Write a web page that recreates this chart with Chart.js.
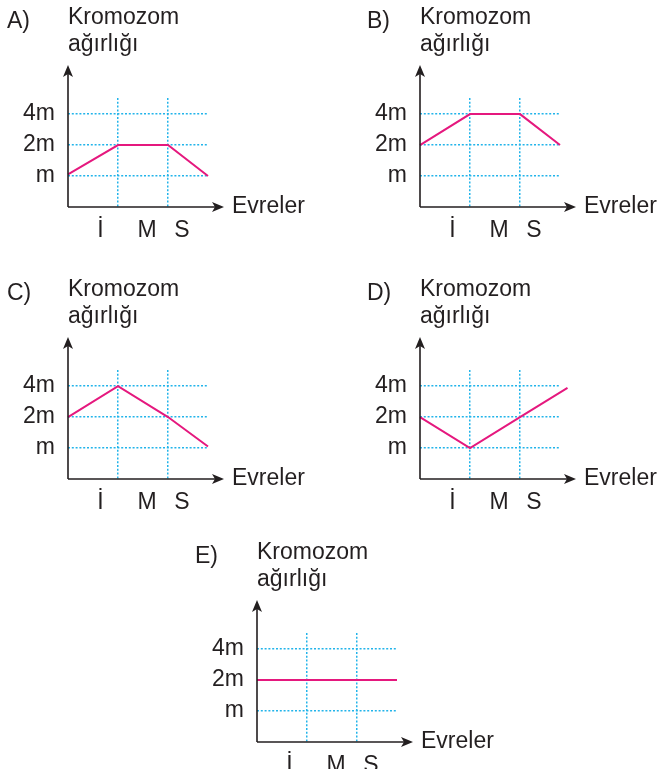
<!DOCTYPE html>
<html>
<head>
<meta charset="utf-8">
<script src="https://cdn.jsdelivr.net/npm/chart.js@4/dist/chart.umd.min.js"></script>
<style>
  html, body { margin: 0; padding: 0; background: #fff; overflow: hidden; }
  body { width: 662px; height: 769px; position: relative; }
  canvas { position: absolute; }
</style>
</head>
<body>
<canvas id="chartA" width="310" height="240"></canvas>
<canvas id="chartB" width="310" height="240"></canvas>
<canvas id="chartC" width="310" height="240"></canvas>
<canvas id="chartD" width="310" height="240"></canvas>
<canvas id="chartE" width="310" height="240"></canvas>
<script>
// data
const phaseLabels = ["İ", "M", "S"];
const weightLabels = ["m", "2m", "4m"];   // levels 1, 2, 3
const yTitle = ["Kromozom", "ağırlığı"];
const xTitle = "Evreler";

const pointX = [0, 1, 2, 2.8];
const pointXD = [0, 1, 2, 2.95];

const seriesA = [1.05, 2, 2, 1];
const seriesB = [2, 3, 3, 2];
const seriesC = [2, 3, 2, 1.05];
const seriesD = [2, 1, 2, 2.94];
const seriesE = [2, 2, 2, 2];

// layout: where each small chart sits (axis origin) and letter offset
const panels = [
    { id: "chartA", letter: "A)", xs: pointX,  ys: seriesA, ox: 68,  oy: 207, letterDx: 61 },
    { id: "chartB", letter: "B)", xs: pointX,  ys: seriesB, ox: 420, oy: 207, letterDx: 53 },
    { id: "chartC", letter: "C)", xs: pointX,  ys: seriesC, ox: 68,  oy: 479, letterDx: 61 },
    { id: "chartD", letter: "D)", xs: pointXD, ys: seriesD, ox: 420, oy: 479, letterDx: 53 },
    { id: "chartE", letter: "E)", xs: pointX,  ys: seriesE, ox: 257, oy: 742, letterDx: 62 }
];

const INK = "#231f20";
const GRID = "#22b4ea";
const LINE = "#e5187e";
const FONT = "Liberation Sans, Arial, sans-serif";
const FS = 23;
const labelAt = [0.65, 1.58, 2.28];

function arrowHead(ctx, x, y, dir) {
    ctx.save();
    ctx.translate(x, y);
    ctx.rotate(dir);
    ctx.beginPath();
    ctx.moveTo(0, 0);
    ctx.lineTo(-5, 12);
    ctx.lineTo(0, 9);
    ctx.lineTo(5, 12);
    ctx.closePath();
    ctx.fill();
    ctx.restore();
}

function decorPlugin(p) {
    return {
        id: "decor",
        afterDraw(chart) {
            const ctx = chart.ctx;
            const a = chart.chartArea;
            ctx.save();
            ctx.strokeStyle = INK;
            ctx.fillStyle = INK;
            ctx.lineWidth = 1.6;
            const yTop = a.top - 33;
            const xEnd = a.right + 16;
            ctx.beginPath();
            ctx.moveTo(a.left, a.bottom);
            ctx.lineTo(a.left, yTop + 8);
            ctx.moveTo(a.left, a.bottom);
            ctx.lineTo(xEnd - 8, a.bottom);
            ctx.stroke();
            arrowHead(ctx, a.left, yTop, 0);
            arrowHead(ctx, xEnd, a.bottom, Math.PI / 2);

            ctx.font = FS + "px " + FONT;
            ctx.textBaseline = "middle";
            ctx.textAlign = "left";
            ctx.fillText(yTitle[0], a.left, a.bottom - 189);
            ctx.fillText(yTitle[1], a.left, a.bottom - 162);
            ctx.fillText(xTitle, a.right + 24, a.bottom);
            ctx.fillText(p.letter, a.left - p.letterDx, a.bottom - 185);
            ctx.restore();
        }
    };
}

function drawPanel(p) {
    const el = document.getElementById(p.id);
    el.style.left = (p.ox - 68) + "px";
    el.style.top = (p.oy - 207) + "px";

    const points = p.xs.map((x, i) => ({ x: x, y: p.ys[i] }));

    new Chart(el, {
        type: "line",
        data: {
            datasets: [{
                data: points,
                borderColor: LINE,
                borderWidth: 2,
                pointRadius: 0,
                tension: 0,
                clip: false,
                xAxisID: "x",
                yAxisID: "y"
            }]
        },
        options: {
            responsive: false,
            animation: false,
            devicePixelRatio: 1,
            layout: { padding: { left: 0, top: 98, right: 102, bottom: 0 } },
            plugins: { legend: { display: false }, tooltip: { enabled: false } },
            scales: {
                x: {
                    type: "linear",
                    min: 0,
                    max: 2.8,
                    position: "bottom",
                    afterBuildTicks: s => { s.ticks = [{ value: 1 }, { value: 2 }]; },
                    afterFit: s => { s.height = 0; },
                    ticks: { display: false },
                    border: { display: false, dash: [2, 1.8] },
                    grid: { color: GRID, lineWidth: 1.5, drawTicks: false }
                },
                x2: {
                    type: "linear",
                    min: 0,
                    max: 2.8,
                    position: "bottom",
                    afterBuildTicks: s => { s.ticks = labelAt.map(v => ({ value: v })); },
                    afterFit: s => { s.height = 33; },
                    ticks: {
                        color: INK,
                        padding: 10,
                        maxRotation: 0,
                        autoSkip: false,
                        font: { family: FONT, size: FS },
                        callback: (v, i) => phaseLabels[i]
                    },
                    border: { display: false },
                    grid: { display: false, drawTicks: false }
                },
                y: {
                    type: "linear",
                    min: 0,
                    max: 3.52,
                    afterBuildTicks: s => { s.ticks = [{ value: 1 }, { value: 2 }, { value: 3 }]; },
                    afterFit: s => { s.width = 68; },
                    ticks: {
                        color: INK,
                        padding: 13,
                        font: { family: FONT, size: FS },
                        callback: v => weightLabels[v - 1]
                    },
                    border: { display: false, dash: [2, 1.8] },
                    grid: { color: GRID, lineWidth: 1.5, drawTicks: false }
                }
            }
        },
        plugins: [decorPlugin(p)]
    });
}

panels.forEach(drawPanel);
</script>
</body>
</html>
